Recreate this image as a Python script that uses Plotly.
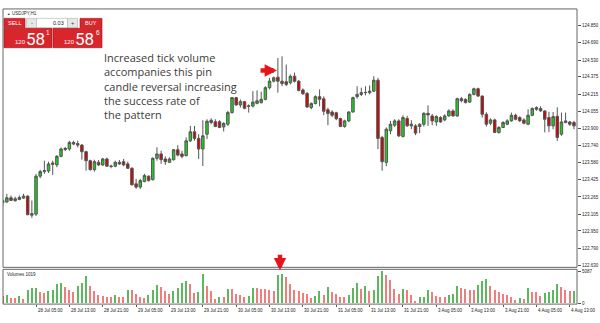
import plotly.graph_objects as go

# ---------------- data (USDJPY H1) ----------------
opens = [123.211,123.218,123.257,123.230,123.242,123.254,123.273,123.096,123.106,123.457,
         123.499,123.505,123.579,123.561,123.640,123.703,123.708,123.769,123.758,123.744,
         123.683,123.600,123.517,123.585,123.561,123.616,123.551,123.549,123.585,123.591,
         123.570,123.530,123.386,123.356,123.407,123.457,123.425,123.622,123.662,123.616,
         123.585,123.609,123.701,123.662,123.646,123.784,123.867,123.806,123.708,123.845,
         123.974,123.960,123.960,123.912,123.937,124.045,124.183,124.115,124.146,124.107,
         124.105,124.130,124.137,124.167,124.275,124.335,124.372,124.335,124.330,124.321,
         124.381,124.335,124.254,124.222,124.091,124.128,124.192,124.172,124.071,124.050,
         124.043,123.990,123.916,123.968,124.050,124.192,124.213,124.229,124.229,124.243,
         124.344,123.815,123.585,123.876,123.928,123.968,123.824,123.990,123.922,123.922,
         123.916,123.937,124.038,124.014,123.958,123.999,123.977,124.014,124.060,124.014,
         124.173,124.167,124.142,124.213,124.265,124.197,124.029,123.946,123.977,123.861,
         123.907,123.937,123.968,124.020,123.999,123.977,123.937,124.020,124.075,124.082,
         124.060,123.999,123.922,124.011,123.845,123.953,123.958,123.953]
highs = [123.248,123.294,123.278,123.266,123.278,123.294,123.278,123.232,123.478,123.517,
         123.600,123.591,123.600,123.652,123.723,123.726,123.784,123.784,123.784,123.754,
         123.692,123.609,123.609,123.606,123.625,123.628,123.563,123.600,123.606,123.616,
         123.591,123.539,123.432,123.432,123.478,123.462,123.631,123.723,123.692,123.640,
         123.631,123.708,123.744,123.692,123.815,123.922,123.922,123.845,123.974,123.983,
         123.992,123.983,123.974,123.956,124.060,124.188,124.190,124.167,124.153,124.121,
         124.243,124.250,124.238,124.289,124.366,124.378,124.550,124.565,124.489,124.397,
         124.415,124.346,124.268,124.236,124.139,124.204,124.259,124.195,124.089,124.066,
         124.052,123.997,123.979,124.057,124.192,124.289,124.275,124.289,124.296,124.381,
         124.366,123.830,123.907,123.968,123.983,123.983,124.020,124.015,123.974,123.937,
         123.946,124.048,124.112,124.032,124.020,124.011,124.029,124.075,124.075,124.183,
         124.190,124.176,124.222,124.275,124.275,124.204,124.048,123.992,123.988,123.919,
         123.965,123.983,124.045,124.034,124.011,123.992,124.075,124.093,124.103,124.103,
         124.066,124.052,124.050,124.093,124.045,124.045,123.968,123.968]
lows = [123.184,123.211,123.227,123.221,123.234,123.248,123.095,123.071,123.089,123.438,
        123.478,123.487,123.469,123.539,123.631,123.689,123.692,123.744,123.723,123.609,
        123.508,123.508,123.499,123.551,123.551,123.542,123.530,123.539,123.561,123.549,
        123.524,123.370,123.340,123.340,123.401,123.407,123.416,123.600,123.570,123.561,
        123.579,123.600,123.640,123.622,123.640,123.772,123.784,123.616,123.551,123.800,
        123.937,123.910,123.901,123.870,123.922,124.036,124.107,124.091,124.075,124.045,
        124.091,124.121,124.128,124.158,124.259,124.323,124.229,124.289,124.289,124.305,
        124.323,124.241,124.208,124.089,124.075,124.121,124.103,124.020,123.928,124.002,
        123.974,123.910,123.905,123.956,124.045,124.173,124.197,124.204,124.213,124.234,
        123.708,123.508,123.549,123.845,123.910,123.818,123.815,123.913,123.891,123.836,
        123.855,123.916,123.922,123.928,123.922,123.951,123.965,124.006,124.006,124.006,
        124.139,124.130,124.135,124.204,124.190,123.999,123.916,123.928,123.855,123.850,
        123.901,123.928,123.960,123.974,123.960,123.937,123.928,124.011,124.061,124.052,
        123.861,123.864,123.891,123.784,123.830,123.946,123.922,123.891]
closes = [123.230,123.257,123.233,123.248,123.260,123.273,123.101,123.110,123.457,123.499,
          123.508,123.570,123.567,123.640,123.708,123.714,123.769,123.754,123.744,123.683,
          123.600,123.517,123.591,123.561,123.616,123.549,123.547,123.585,123.570,123.561,
          123.530,123.377,123.356,123.416,123.462,123.416,123.622,123.662,123.609,123.591,
          123.616,123.701,123.652,123.640,123.784,123.867,123.806,123.708,123.830,123.965,
          123.953,123.916,123.907,123.944,124.045,124.183,124.115,124.146,124.084,124.103,
          124.142,124.153,124.167,124.275,124.335,124.366,124.335,124.314,124.305,124.381,
          124.335,124.250,124.219,124.096,124.128,124.192,124.167,124.057,124.036,124.020,
          123.988,123.916,123.968,124.050,124.183,124.213,124.229,124.231,124.243,124.344,
          123.806,123.591,123.891,123.937,123.968,123.830,123.999,123.922,123.937,123.855,
          123.937,124.038,124.023,123.968,124.008,123.958,124.014,124.060,124.014,124.173,
          124.155,124.137,124.213,124.265,124.197,124.029,123.937,123.977,123.861,123.907,
          123.953,123.968,124.020,123.983,123.968,123.946,124.020,124.082,124.091,124.060,
          123.983,123.922,124.008,123.815,123.958,123.968,123.937,123.922]
volumes = [1153,1310,891,838,1258,681,2096,2463,2515,1834,
           1677,1991,2201,3144,3196,2620,2096,1834,2830,3249,
           4402,2830,1939,1310,1153,1100,996,1310,1100,996,
           2148,2096,1520,996,943,1310,2148,2882,2568,1939,
           1572,2044,2463,3196,3511,3144,1624,1782,4664,2725,
           1939,734,1100,996,2306,2253,1572,1310,1100,1258,
           2463,2410,2358,2306,2201,2044,4454,4664,4140,3092,
           2148,1939,1677,1520,891,1153,1939,1415,2568,1834,
           1572,1048,996,1310,2463,3196,2358,2830,1939,2096,
           4402,5087,4559,3773,2306,1520,2306,2096,1310,367,
           996,1048,2096,1782,1258,1048,996,1310,1520,2725,
           2463,2358,2096,2090,2882,3616,3930,2830,2096,1886,
           1572,1310,996,524,891,786,2463,1782,1780,1258,
           1677,1782,2201,3092,2620,2201,1939,1945]

price_labels = ["124.850","124.690","124.530","124.375","124.215","124.055","123.900",
                "123.740","123.580","123.425","123.265","123.105","122.950","122.790","122.630"]
volume_labels = ["5087", "0"]
time_label_bars = [0, 8, 16, 24, 32, 40, 48, 56, 64, 72, 80, 88, 96, 104, 112, 120, 128, 136]
time_labels = ["27 Jul 2015","28 Jul 05:00","28 Jul 13:00","28 Jul 21:00","29 Jul 05:00",
               "29 Jul 13:00","29 Jul 21:00","30 Jul 05:00","30 Jul 13:00","30 Jul 21:00",
               "31 Jul 05:00","31 Jul 13:00","31 Jul 21:00","3 Aug 05:00","3 Aug 13:00",
               "3 Aug 21:00","4 Aug 05:00","4 Aug 13:00"]

bars = list(range(len(closes)))

# ---------------- helpers for pixel -> paper ----------------
W, H = 600, 323
def X(px): return px / W
def Y(py): return 1 - py / H

vol_colors = ["#e06060"] + ["#5cb85c" if volumes[i] > volumes[i-1] else "#f07c7c"
                            for i in range(1, len(volumes))]

fig = go.Figure()
fig.add_trace(go.Candlestick(
    x=bars, open=opens, high=highs, low=lows, close=closes,
    increasing=dict(line=dict(color="#555555", width=1), fillcolor="#1ed01e"),
    decreasing=dict(line=dict(color="#555555", width=1), fillcolor="#d40000"),
    whiskerwidth=0, xaxis="x", yaxis="y", hoverinfo="skip"))
fig.add_trace(go.Bar(
    x=bars, y=volumes, marker=dict(color=vol_colors, line=dict(width=0)),
    width=0.32, xaxis="x2", yaxis="y2", hoverinfo="skip"))

xr = [(3 - 2.67) / 4.17, (577 - 2.67) / 4.17]
small = dict(family="Liberation Sans, Arial, sans-serif", size=4.5, color="#222222")

fig.update_layout(
    width=W, height=H, margin=dict(l=0, r=0, t=0, b=0),
    paper_bgcolor="white", plot_bgcolor="white", showlegend=False,
    hovermode=False, boxgap=0.2, boxgroupgap=0.25, bargap=0,
    xaxis=dict(domain=[X(3), X(577)], range=xr, anchor="y", showgrid=False,
               zeroline=False, showticklabels=False, ticks="",
               rangeslider=dict(visible=False), fixedrange=True),
    xaxis2=dict(domain=[X(3), X(577)], range=xr, anchor="y2", matches="x",
                showgrid=False, zeroline=False, showticklabels=False,
                tickmode="array", tickvals=time_label_bars, ticks="outside",
                ticklen=2, tickcolor="#555555"),
    yaxis=dict(domain=[Y(269), Y(9)], range=[122.614, 125.003], anchor="x",
               side="right", showgrid=False, zeroline=False,
               tickmode="array", tickvals=[float(v) for v in price_labels],
               ticktext=price_labels, ticks="outside", ticklen=3,
               tickcolor="#555555", tickfont=small),
    yaxis2=dict(domain=[Y(306), Y(271)], range=[-47, 5448], anchor="x2",
                side="right", showgrid=False, zeroline=False,
                tickmode="array", tickvals=[float(v) for v in volume_labels],
                ticktext=volume_labels, ticks="outside", ticklen=3,
                tickcolor="#555555", tickfont=small),
)

shapes = []
# chart window frames
shapes.append(dict(type="rect", xref="paper", yref="paper", x0=X(3), x1=X(577),
                   y0=Y(269), y1=Y(9), line=dict(color="#666666", width=1)))
shapes.append(dict(type="rect", xref="paper", yref="paper", x0=X(3), x1=X(577),
                   y0=Y(306), y1=Y(271), line=dict(color="#666666", width=1)))

def box(x0, y0, x1, y1, fill, line="#b0b0b0"):
    shapes.append(dict(type="rect", xref="paper", yref="paper", x0=X(x0), x1=X(x1),
                       y0=Y(y1), y1=Y(y0), fillcolor=fill, line=dict(color=line, width=0.6)))

# one-click trading panel
box(4, 18.5, 25, 28, "#d9262c", "#a01318")      # SELL
box(26.5, 18.5, 36.5, 28, "#e6e6e6")             # -
box(36.5, 18.5, 67.5, 28, "#ffffff")             # lot input
box(67.5, 18.5, 77.5, 28, "#e6e6e6")             # +
box(80, 18.5, 102, 28, "#d9262c", "#a01318")     # BUY
box(4, 28.5, 52, 48, "#d9262c", "#a01318")       # sell price
box(53, 28.5, 102, 48, "#d9262c", "#a01318")     # buy price

ann = []
def txt(x, y, s, size, color, xanchor="left", family="Liberation Sans, Arial, sans-serif"):
    ann.append(dict(x=X(x), y=Y(y), xref="paper", yref="paper", text=s, showarrow=False,
                    xanchor=xanchor, yanchor="middle",
                    font=dict(family=family, size=size, color=color)))

txt(5, 14, "▲", 3.5, "#333333")
txt(9.5, 14, "USDJPY,H1", 4.5, "#222222")
txt(14.5, 23.3, "SELL", 5.5, "white", "center")
txt(31.5, 23.3, "-", 5.5, "#333333", "center")
txt(66, 23.3, "0.03", 5.5, "#222222", "right")
txt(72.5, 23.3, "+", 5.5, "#333333", "center")
txt(91, 23.3, "BUY", 5.5, "white", "center")
txt(12.5, 42.5, "120", 6, "white")
txt(24, 39, "58", 17, "white", family="Roboto, sans-serif")
txt(43.5, 32.5, "1", 6.5, "white")
txt(61.5, 42.5, "120", 6, "white")
txt(73, 39, "58", 17, "white", family="Roboto, sans-serif")
txt(93.5, 32.5, "6", 6.5, "white")
txt(5, 276, "Volumes 1019", 4.5, "#222222")

# main explanatory text
ann.append(dict(x=X(102), y=Y(48.5), xref="paper", yref="paper", showarrow=False,
                xanchor="left", yanchor="top", align="left",
                text="Increased tick volume<br>accompanies this pin<br>candle reversal increasing"
                     "<br>the success rate of<br>the pattern",
                font=dict(family="Open Sans, sans-serif", size=11, color="#3c3c3c")))

# red arrows
ann.append(dict(x=X(277), y=Y(71), xref="paper", yref="paper", ax=-18, ay=0,
                text="", showarrow=True, arrowhead=2, arrowsize=0.55, arrowwidth=4.5,
                arrowcolor="#e8141b", standoff=0))
ann.append(dict(x=X(280), y=Y(272), xref="paper", yref="paper", ax=0, ay=-17,
                text="", showarrow=True, arrowhead=2, arrowsize=0.55, arrowwidth=4.5,
                arrowcolor="#e8141b", standoff=0))

# time axis labels, left-aligned at their bar like the terminal does
for b, s in zip(time_label_bars, time_labels):
    ann.append(dict(x=b, y=Y(312.5), xref="x2", yref="paper", text=s, showarrow=False,
                    xanchor="left", yanchor="middle", xshift=-0.5, font=small))

fig.update_layout(shapes=shapes, annotations=ann)
fig.write_html("out.html")
